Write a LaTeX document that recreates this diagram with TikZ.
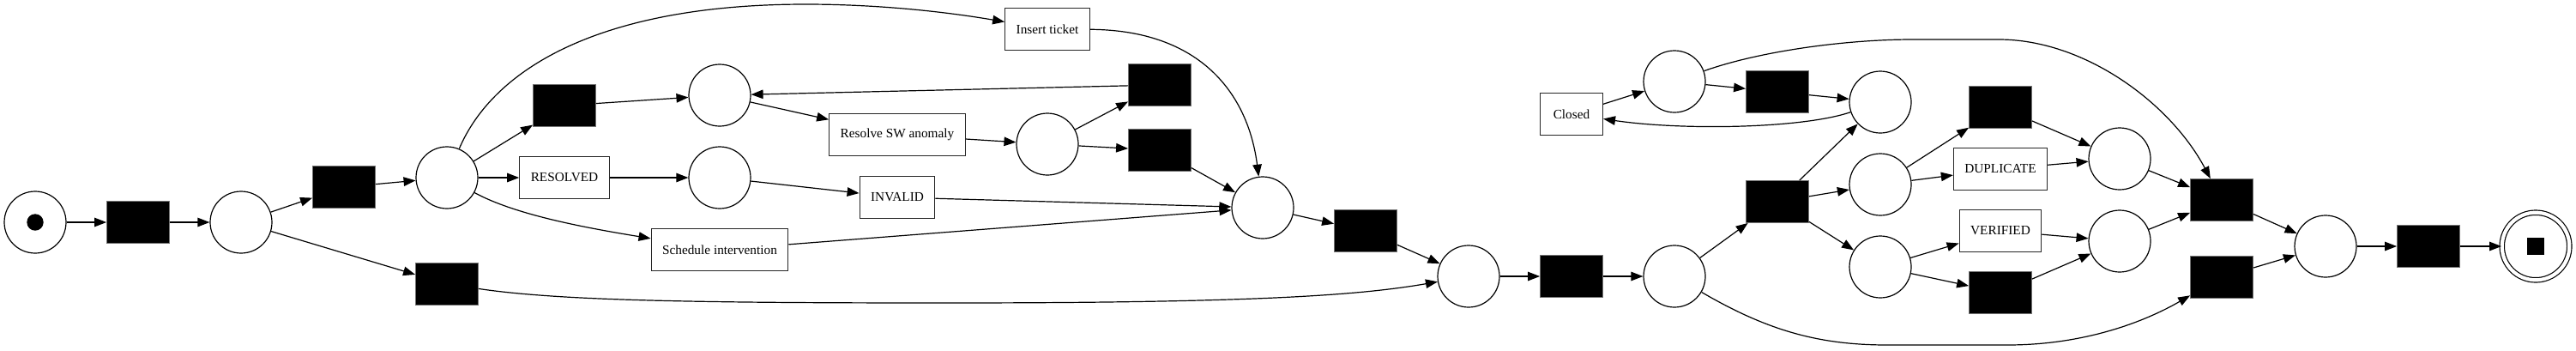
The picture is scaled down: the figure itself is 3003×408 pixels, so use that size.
\documentclass[tikz,border=0pt]{standalone}
\usepackage{fontspec}
\setmainfont{Liberation Serif}
\usepackage{tikz}
\usetikzlibrary{arrows.meta}
\tikzstyle{place} = [circle, draw=black, line width=1.2pt, minimum size=72pt, inner sep=0pt, fill=white]
\tikzstyle{blacktr} = [rectangle, draw=black!55, line width=0.8pt, fill=black, minimum width=73pt, minimum height=49pt, inner sep=0pt]
\tikzstyle{task} = [rectangle, draw=black!85, line width=1.1pt, fill=white, minimum width=73pt, minimum height=48.5pt, inner xsep=13pt, font=\fontsize{15.3}{18}\selectfont]
\tikzstyle{finalplace} = [circle, draw=black, line width=1.2pt, double, double distance=4.2pt, minimum size=78.6pt, inner sep=0pt]
\tikzstyle{arrow} = [line width=1.2pt, ->, >={Triangle[length=14pt, width=10.5pt]}]

\begin{document}
\begin{tikzpicture}[x=1pt, y=-1pt]
        \useasboundingbox (0,0) rectangle (3003,408);

        \node (start) [place] at (41,259) {};
        \node (starttoken) [circle, fill=black, minimum size=19.4pt, inner sep=0pt] at (start) {};
        \node (t1) [blacktr] at (161,259) {};
        \node (p2) [place] at (281,259) {};
        \node (t2) [blacktr] at (401,218) {};
        \node (t3) [blacktr] at (521,331) {};
        \node (p3) [place] at (521,207) {};
        \node (tskip) [blacktr] at (658,123) {};
        \node (resolved) [task] at (658,207) {RESOLVED};
        \node (sched) [task] at (839,291) {Schedule intervention};
        \node (pa) [place] at (839,111) {};
        \node (pb) [place] at (839,207) {};
        \node (insert) [task] at (1221,34) {Insert ticket};
        \node (resolve) [task] at (1046,157) {Resolve SW anomaly};
        \node (invalid) [task] at (1046,230) {INVALID};
        \node (pc) [place] at (1221,168) {};
        \node (tloop) [blacktr] at (1352,99) {};
        \node (tout) [blacktr] at (1352,175) {};
        \node (pm) [place] at (1472,242) {};
        \node (t4) [blacktr] at (1592,269) {};
        \node (pn) [place] at (1712,322) {};
        \node (t5) [blacktr] at (1832,322) {};
        \node (pq) [place] at (1952,322) {};
        \node (tsplit) [blacktr] at (2072,235) {};
        \node (closed) [task] at (1832,133) {Closed};
        \node (pr) [place] at (1952,95) {};
        \node (t6) [blacktr] at (2072,107) {};
        \node (ps1) [place] at (2192,119) {};
        \node (ps2) [place] at (2192,215) {};
        \node (ps3) [place] at (2192,311) {};
        \node (tdup) [blacktr] at (2332,125) {};
        \node (dup) [task] at (2332,197) {DUPLICATE};
        \node (ver) [task] at (2332,269) {VERIFIED};
        \node (tver) [blacktr] at (2332,341) {};
        \node (pA) [place] at (2471,185) {};
        \node (pB) [place] at (2471,281) {};
        \node (tj1) [blacktr] at (2590,233) {};
        \node (tj2) [blacktr] at (2590,323) {};
        \node (pC) [place] at (2711,287) {};
        \node (tf) [blacktr] at (2831,287) {};
        \node (end) [finalplace] at (2956,287) {};
        \node (endtoken) [rectangle, fill=black, minimum size=20.5pt, inner sep=0pt] at (end) {};

        \draw [arrow] (start) -- (t1);
        \draw [arrow] (t1) -- (p2);
        \draw [arrow] (p2) -- (t2);
        \draw [arrow] (p2) -- (t3);
        \draw [arrow] (t2) -- (p3);
        \draw [arrow] (p3) -- (tskip);
        \draw [arrow] (p3) -- (resolved);
        \draw [arrow] (p3) .. controls (600,250) and (680,265) .. (sched);
        \draw [arrow] (p3) .. controls (575,80) and (700,5) .. (939,5) .. controls (1030,5) and (1110,15) .. (insert);
        \draw [arrow] (tskip) -- (pa);
        \draw [arrow] (resolved) -- (pb);
        \draw [arrow] (pa) -- (resolve);
        \draw [arrow] (resolve) -- (pc);
        \draw [arrow] (pc) -- (tloop);
        \draw [arrow] (pc) -- (tout);
        \draw [arrow] (tloop) -- (pa);
        \draw [arrow] (pb) -- (invalid);
        \draw [arrow] (insert) .. controls (1400,35) and (1455,110) .. (pm);
        \draw [arrow] (tout) -- (pm);
        \draw [arrow] (invalid) -- (pm);
        \draw [arrow] (sched) -- (pm);
        \draw [arrow] (t3) .. controls (650,350) and (800,353) .. (1100,353) .. controls (1450,353) and (1580,345) .. (pn);
        \draw [arrow] (pm) -- (t4);
        \draw [arrow] (t4) -- (pn);
        \draw [arrow] (pn) -- (t5);
        \draw [arrow] (t5) -- (pq);
        \draw [arrow] (pq) -- (tsplit);
        \draw [arrow] (pq) .. controls (2060,385) and (2120,402) .. (2200,402) -- (2340,402) .. controls (2430,402) and (2500,375) .. (tj2);
        \draw [arrow] (tsplit) -- (ps1);
        \draw [arrow] (tsplit) -- (ps2);
        \draw [arrow] (tsplit) -- (ps3);
        \draw [arrow] (ps1) .. controls (2100,150) and (1960,152) .. (closed);
        \draw [arrow] (closed) -- (pr);
        \draw [arrow] (pr) -- (t6);
        \draw [arrow] (t6) -- (ps1);
        \draw [arrow] (pr) .. controls (2050,60) and (2150,46) .. (2230,46) -- (2330,46) .. controls (2430,46) and (2530,120) .. (tj1);
        \draw [arrow] (ps2) -- (tdup);
        \draw [arrow] (ps2) -- (dup);
        \draw [arrow] (tdup) -- (pA);
        \draw [arrow] (dup) -- (pA);
        \draw [arrow] (ps3) -- (ver);
        \draw [arrow] (ps3) -- (tver);
        \draw [arrow] (ver) -- (pB);
        \draw [arrow] (tver) -- (pB);
        \draw [arrow] (pA) -- (tj1);
        \draw [arrow] (pB) -- (tj1);
        \draw [arrow] (tj1) -- (pC);
        \draw [arrow] (tj2) -- (pC);
        \draw [arrow] (pC) -- (tf);
        \draw [arrow] (tf) -- (end);
\end{tikzpicture}
\end{document}
